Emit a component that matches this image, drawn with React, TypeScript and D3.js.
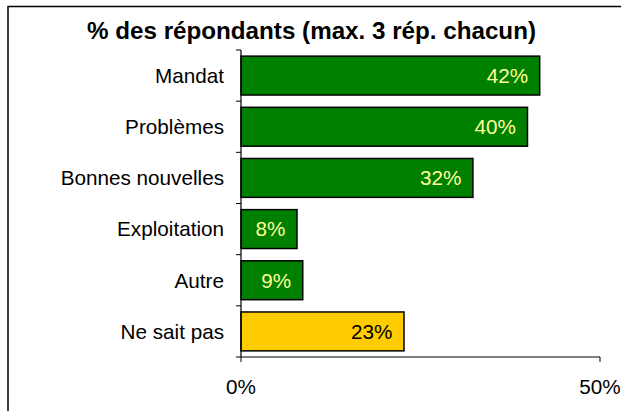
import React from "react";
import * as d3 from "d3";

const categories = ["Mandat", "Problèmes", "Bonnes nouvelles", "Exploitation", "Autre", "Ne sait pas"];
const values = [0.416, 0.399, 0.323, 0.078, 0.086, 0.227];
const barColors = ["#008000", "#008000", "#008000", "#008000", "#008000", "#FFCC00"];
const labelColors = ["#FFFF99", "#FFFF99", "#FFFF99", "#FFFF99", "#FFFF99", "#000000"];
const xTicks = [0, 0.5];
const title = "% des répondants (max. 3 rép. chacun)";

const W = 621;
const H = 411;
const FONT = "'Liberation Sans', Arial, Helvetica, sans-serif";

export default function App() {
  const x0 = 241, x1 = 600, yTop = 50, yBot = 357;
  const x = d3.scaleLinear().domain([0, 0.5]).range([x0, x1]);
  const y = d3.scaleBand<string>().domain(categories).range([yTop, yBot]).paddingInner(0.24).paddingOuter(0.12);
  const fmt = d3.format(".0%");
  const boundaries = d3.range(categories.length + 1).map((i) => yTop + i * ((yBot - yTop) / categories.length));

  return (
    <svg width={W} height={H} style={{ position: "absolute", left: 0, top: 0, background: "#fff" }} fontFamily={FONT}>
      <path d={`M8,${H + 10} V6.5 H${W + 10}`} fill="none" stroke="#000" strokeWidth={1.5} />
      <text x={311.5} y={39.3} textAnchor="middle" fontSize={24.2} fontWeight="bold" fill="#000">{title}</text>

      {categories.map((c, i) => {
        const by = y(c)!;
        const bh = y.bandwidth();
        const bx = x(0);
        const bw = x(values[i]) - x(0);
        return (
          <g key={c}>
            <rect x={bx} y={by} width={bw} height={bh} fill={barColors[i]} stroke="#000" strokeWidth={1.5} />
            <text x={x(values[i]) - 11.5} y={by + bh / 2 + 7.3} textAnchor="end" fontSize={20.7} fill={labelColors[i]}>{fmt(values[i])}</text>
            <text x={224} y={by + bh / 2 + 7.3} textAnchor="end" fontSize={20.7} fill="#000">{c}</text>
          </g>
        );
      })}

      <line x1={x0} x2={x0} y1={yTop} y2={yBot} stroke="#000" strokeWidth={1.2} />
      {boundaries.map((b, i) => (
        <line key={i} x1={x0 - 5} x2={x0} y1={b} y2={b} stroke="#000" strokeWidth={1} />
      ))}
      <line x1={x0} x2={x1} y1={yBot} y2={yBot} stroke="#000" strokeWidth={1.2} />
      {xTicks.map((t) => (
        <g key={t}>
          <line x1={x(t)} x2={x(t)} y1={yBot} y2={yBot + 5} stroke="#000" strokeWidth={1} />
          <text x={x(t)} y={394} textAnchor="middle" fontSize={20.7} fill="#000">{fmt(t)}</text>
        </g>
      ))}
    </svg>
  );
}
